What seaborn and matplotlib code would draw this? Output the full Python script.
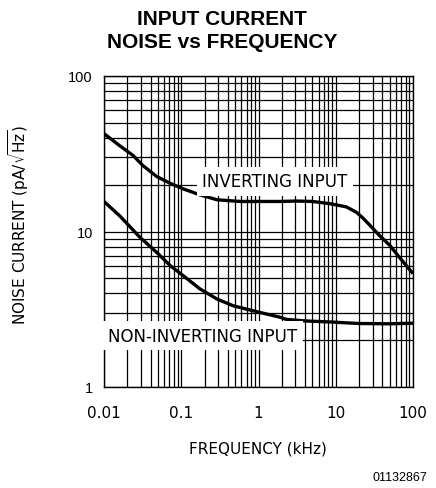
import matplotlib
matplotlib.use("Agg")
import matplotlib.pyplot as plt
import matplotlib.ticker as mticker
import seaborn as sns
import pandas as pd

# ---- data ----
inv_freq = [0.01, 0.016, 0.024, 0.032, 0.048, 0.072, 0.106, 0.175, 0.29, 0.58, 1.9, 3.1, 5,
            8.4, 13.7, 18.5, 22.5, 27.5, 37, 50, 61, 100]
inv_noise = [42.6, 35.6, 30.7, 26.5, 22.6, 20.4, 18.8, 17.2, 16.0, 15.6, 15.6, 15.7, 15.6,
             15.1, 14.4, 13.3, 12.2, 11.0, 9.4, 8.15, 7.2, 5.36]

non_freq = [0.01, 0.016, 0.029, 0.048, 0.072, 0.106, 0.175, 0.29, 0.47, 0.95, 1.9, 2.3,
            4, 8.4, 20, 50, 100]
non_noise = [15.6, 12.6, 9.2, 7.35, 6.03, 5.2, 4.27, 3.68, 3.33, 3.05, 2.81, 2.72,
             2.66, 2.62, 2.56, 2.55, 2.57]

x_ticks = [0.01, 0.1, 1, 10, 100]
x_tick_labels = ["0.01", "0.1", "1", "10", "100"]
y_ticks = [1, 10, 100]
y_tick_labels = ["1", "10", "100"]

series_names = ["INVERTING INPUT", "NON-INVERTING INPUT"]

df = pd.concat([
    pd.DataFrame({"freq": inv_freq, "noise": inv_noise, "series": series_names[0]}),
    pd.DataFrame({"freq": non_freq, "noise": non_noise, "series": series_names[1]}),
])

sns.set_style("white")
plt.rcParams["font.family"] = ["DejaVu Sans"]
plt.rcParams["text.color"] = "black"
plt.rcParams["axes.labelcolor"] = "black"
plt.rcParams["xtick.color"] = "black"
plt.rcParams["ytick.color"] = "black"

fig = plt.figure(figsize=(4.36, 4.89), dpi=100)
ax = fig.add_axes([104 / 436, 101 / 489, 309 / 436, 311 / 489])

ax.set_xscale("log")
ax.set_yscale("log")
ax.set_xlim(0.01, 100)
ax.set_ylim(1, 100)

sns.lineplot(data=df, x="freq", y="noise", hue="series", units="series",
             estimator=None, palette=["black", "black"], linewidth=2.4,
             legend=False, ax=ax, zorder=4, sort=False)
for ln in ax.get_lines():
    ln.set_solid_joinstyle("round")
    ln.set_solid_capstyle("butt")

ax.xaxis.set_major_locator(mticker.FixedLocator(x_ticks))
ax.xaxis.set_minor_locator(mticker.LogLocator(base=10, subs=range(2, 10), numticks=20))
ax.yaxis.set_major_locator(mticker.FixedLocator(y_ticks))
ax.yaxis.set_minor_locator(mticker.LogLocator(base=10, subs=range(2, 10), numticks=20))
ax.xaxis.set_minor_formatter(mticker.NullFormatter())
ax.yaxis.set_minor_formatter(mticker.NullFormatter())
ax.set_xticklabels(x_tick_labels, fontsize=11, family="DejaVu Sans", color="black")
ax.set_yticklabels(y_tick_labels, fontsize=10.5, family="Liberation Sans", color="black")

ax.grid(True, which="both", color="black", linewidth=0.9)
ax.set_axisbelow(True)
ax.tick_params(axis="both", which="both", length=0)
ax.tick_params(axis="x", pad=13)
ax.tick_params(axis="y", pad=8)
for s in ax.spines.values():
    s.set_color("black")
    s.set_linewidth(1.0)

ax.set_xlabel("")
ax.set_ylabel("")

# in-plot labels with white boxes covering the grid
bbox = dict(facecolor="white", edgecolor="none", pad=4)
ax.text(1.64, 21.1, series_names[0], fontsize=12, ha="center", va="center",
        bbox=bbox, zorder=5, color="black")
ax.text(0.19, 2.13, series_names[1], fontsize=12, ha="center", va="center",
        bbox=bbox, zorder=5, color="black")

# axis labels
fig.text(258 / 436, 1 - 449 / 489, "FREQUENCY (kHz)", fontsize=11,
         ha="center", va="center", color="black")
fig.text(19 / 436, 1 - 225 / 489, r"NOISE CURRENT (pA/$\sqrt{\mathrm{Hz}}$)",
         fontsize=11, ha="center", va="center", rotation=90, color="black")

# title
fig.text(222 / 436, 1 - 25 / 489, "INPUT CURRENT", fontsize=15, fontweight="bold",
         family="Liberation Sans", ha="center", va="baseline", color="black")
fig.text(222 / 436, 1 - 48 / 489, "NOISE vs FREQUENCY", fontsize=15, fontweight="bold",
         family="Liberation Sans", ha="center", va="baseline", color="black")

# figure code
fig.text(427 / 436, 1 - 478 / 489, "01132867", fontsize=9, family="Liberation Sans",
         ha="right", va="center", color="black")

fig.savefig("out.png", dpi=100, facecolor="white")
